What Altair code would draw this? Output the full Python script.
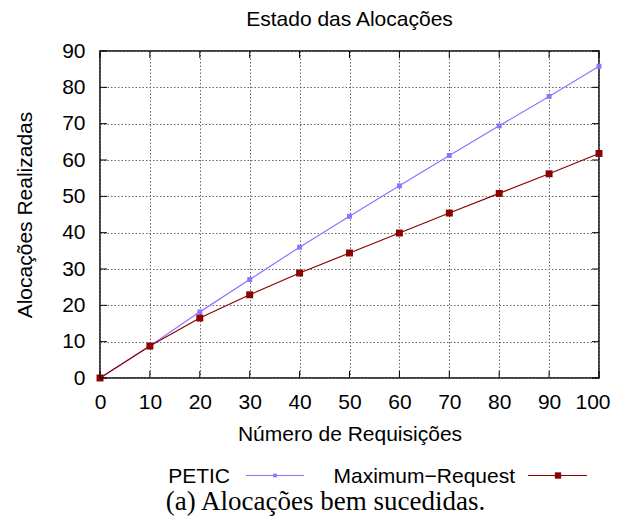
import altair as alt
import pandas as pd

requisicoes = [0, 10, 20, 30, 40, 50, 60, 70, 80, 90, 100]
petic = [0, 8.8, 18.2, 27.1, 36.0, 44.5, 52.9, 61.25, 69.4, 77.5, 85.8]
max_request = [0, 8.8, 16.5, 22.9, 28.9, 34.4, 39.9, 45.4, 50.8, 56.2, 61.8]
y_ticks = [0, 10, 20, 30, 40, 50, 60, 70, 80, 90]
series_names = ["PETIC", "Maximum\u2212Request"]
colors = ["#9370ff", "#8b0000"]
title_text = "Estado das Alocações"
caption_text = "(a)  Alocações bem sucedidas."

rows = []
for name, vals in zip(series_names, [petic, max_request]):
    for x, y in zip(requisicoes, vals):
        rows.append({"x": x, "y": y, "serie": name})
df = pd.DataFrame(rows)

W, H = 499, 327
FONT = "Liberation Sans"
FS = 21

xscale = alt.Scale(domain=[0, 100], nice=False, zero=False)
yscale = alt.Scale(domain=[0, 90], nice=False)

xaxis = alt.Axis(values=requisicoes, title="Número de Requisições", grid=True,
                 tickSize=0, labelPadding=13, titleX=W / 2, titleY=62,
                 titleBaseline="alphabetic", labelFlush=False, labelOverlap=False,
                 labelAlign={"condition": {"test": "datum.value == 100", "value": "right"},
                             "value": "center"},
                 labelOffset={"condition": {"test": "datum.value == 100", "value": 11},
                              "value": 0})
yaxis = alt.Axis(values=y_ticks, title="Alocações Realizadas", grid=True,
                 tickSize=0, labelPadding=15, titleX=-69, titleY=H / 2,
                 titleBaseline="alphabetic", labelOverlap=False, labelFlush=False)

color = alt.Color("serie:N", scale=alt.Scale(domain=series_names, range=colors), legend=None)

def X(field):
    return alt.X(field, scale=xscale, axis=xaxis)

def Y(field):
    return alt.Y(field, scale=yscale, axis=yaxis)

base = alt.Chart(df)

line_p = base.transform_filter(alt.datum.serie == series_names[0]).mark_line(
    strokeWidth=1.2).encode(x=X("x:Q"), y=Y("y:Q"), color=color)
pts_p = base.transform_filter(alt.datum.serie == series_names[0]).mark_point(
    shape="square", filled=True, size=24, opacity=1).encode(x=X("x:Q"), y=Y("y:Q"), color=color)
line_m = base.transform_filter(alt.datum.serie == series_names[1]).mark_line(
    strokeWidth=1.2).encode(x=X("x:Q"), y=Y("y:Q"), color=color)
pts_m = base.transform_filter(alt.datum.serie == series_names[1]).mark_point(
    shape="square", filled=True, size=48, opacity=1).encode(x=X("x:Q"), y=Y("y:Q"), color=color)

# gnuplot-style inward ticks on all four sides
xt = alt.Chart(pd.DataFrame({"x": requisicoes}))
yt = alt.Chart(pd.DataFrame({"y": y_ticks}))
TL = 7
tick_layers = [
    xt.mark_rule(color="black", strokeWidth=1).encode(
        x=X("x:Q"), y=alt.value(H), y2=alt.value(H - TL)),
    xt.mark_rule(color="black", strokeWidth=1).encode(
        x=X("x:Q"), y=alt.value(0), y2=alt.value(TL)),
    yt.mark_rule(color="black", strokeWidth=1).encode(
        y=Y("y:Q"), x=alt.value(0), x2=alt.value(TL)),
    yt.mark_rule(color="black", strokeWidth=1).encode(
        y=Y("y:Q"), x=alt.value(W), x2=alt.value(W - TL)),
]

# Title, legend (gnuplot style: label then sample) and caption
leg_y = 424.5
leg_base = 432
one = pd.DataFrame({"k": [0]})
leg = alt.Chart(one)
text_layers = [
    leg.mark_text(text=title_text, align="center", baseline="alphabetic", font=FONT,
                  fontSize=FS, color="black").encode(x=alt.value(W / 2), y=alt.value(-25)),
    leg.mark_text(text=series_names[0], align="right", baseline="alphabetic", font=FONT,
                  fontSize=FS, color="black").encode(x=alt.value(130), y=alt.value(leg_base)),
    leg.mark_rule(color=colors[0], strokeWidth=1.2).encode(
        x=alt.value(146), x2=alt.value(204), y=alt.value(leg_y)),
    leg.mark_point(shape="square", filled=True, size=14, opacity=1, color=colors[0]).encode(
        x=alt.value(175), y=alt.value(leg_y)),
    leg.mark_text(text=series_names[1], align="right", baseline="alphabetic", font=FONT,
                  fontSize=FS, color="black").encode(x=alt.value(415), y=alt.value(leg_base)),
    leg.mark_rule(color=colors[1], strokeWidth=1.2).encode(
        x=alt.value(428), x2=alt.value(487), y=alt.value(leg_y)),
    leg.mark_point(shape="square", filled=True, size=40, opacity=1, color=colors[1]).encode(
        x=alt.value(458), y=alt.value(leg_y)),
    leg.mark_text(text=caption_text, align="center", baseline="alphabetic",
                  font="Liberation Serif", fontSize=27, color="black").encode(
        x=alt.value(225.5), y=alt.value(459)),
]

chart = alt.layer(line_p, line_m, pts_p, pts_m, *tick_layers, *text_layers).properties(
    width=W, height=H,
    autosize=alt.AutoSizeParams(type="none"),
    padding={"left": 92, "top": 43, "right": 12, "bottom": 138},
).configure_view(
    stroke="black", strokeWidth=1.5
).configure_axis(
    labelFont=FONT, labelFontSize=FS, labelColor="black", labelOverlap=False,
    titleFont=FONT, titleFontSize=FS, titleFontWeight="normal", titleColor="black",
    gridColor="#666666", gridDash=[1.5, 2], gridOpacity=1, gridWidth=1,
    domain=False,
)

chart.save("out.html", embed_options={"renderer": "svg", "actions": False})
